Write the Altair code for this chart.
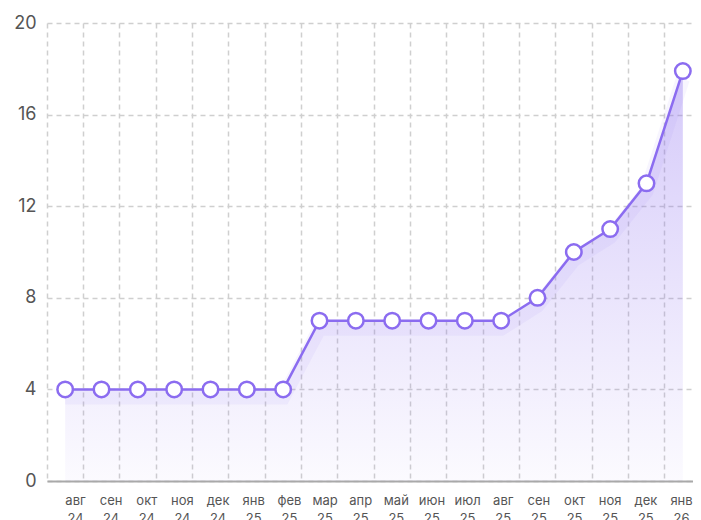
import altair as alt
import pandas as pd

months = ["авг 24", "сен 24", "окт 24", "ноя 24", "дек 24", "янв 25", "фев 25",
          "мар 25", "апр 25", "май 25", "июн 25", "июл 25", "авг 25", "сен 25",
          "окт 25", "ноя 25", "дек 25", "янв 26"]
values = [4, 4, 4, 4, 4, 4, 4, 7, 7, 7, 7, 7, 7, 8, 10, 11, 13, 17.9]
y_ticks = [0, 4, 8, 12, 16, 20]

df = pd.DataFrame({"month": months, "value": values})

PURPLE = "#8b6cf0"
GRID = "#cfcfcf"
FONT = "Inter"

x_main = alt.X(
    "month:N", sort=months,
    scale=alt.Scale(type="band", paddingInner=0, paddingOuter=0, range=[0, 654]),
    axis=alt.Axis(bandPosition=0, grid=True, gridDash=[5, 4], gridColor=GRID,
                  gridWidth=1.5, labels=False, ticks=False, domain=True,
                  domainColor="#a9a9a9", domainWidth=2, title=None),
)
y_enc = alt.Y(
    "value:Q",
    scale=alt.Scale(domain=[0, 20], nice=False, zero=True),
    axis=alt.Axis(values=y_ticks, grid=True, gridDash=[5, 4], gridColor=GRID,
                  gridWidth=1.5, domain=False, ticks=False, labelFontSize=18,
                  labelColor="#555555", labelPadding=11, labelFont=FONT, title=None),
)

base = alt.Chart(df)

area = base.mark_area(
    color=alt.Gradient(
        gradient="linear",
        stops=[alt.GradientStop(color="rgba(139,108,240,0.36)", offset=0),
               alt.GradientStop(color="rgba(139,108,240,0.03)", offset=1)],
        x1=1, x2=1, y1=0, y2=1,
    )
).encode(x=x_main, y=y_enc)

shadow = base.mark_line(color=PURPLE, strokeWidth=14, opacity=0.07, yOffset=8,
                        strokeCap="butt").encode(x=x_main, y=y_enc)

line = base.mark_line(color=PURPLE, strokeWidth=2.5).encode(x=x_main, y=y_enc)

points = base.mark_point(filled=True, fill="white", stroke=PURPLE, strokeWidth=2.5,
                         size=240, opacity=1).encode(x=x_main, y=y_enc)

inner = alt.layer(area, shadow, line, points)

labels_layer = base.mark_point(opacity=0).encode(
    x=alt.X("month:N", sort=months,
            scale=alt.Scale(type="point", range=[28, 634], padding=0),
            axis=alt.Axis(orient="bottom", grid=False, domain=False, ticks=False,
                          labelExpr="split(datum.label, ' ')", labelFontSize=13,
                          labelColor="#555555", labelPadding=13, labelLineHeight=18,
                          labelAngle=0, labelFont=FONT, title=None)),
    y=y_enc,
)

chart = alt.layer(inner, labels_layer).resolve_scale(x="independent").resolve_axis(
    x="independent"
).properties(
    width=646, height=458,
    autosize=alt.AutoSizeParams(type="none"),
    padding={"left": 39, "top": 15, "right": 0, "bottom": 46},
).configure_view(stroke=None)

chart.save("out.html", embed_options={"renderer": "svg", "actions": False})
